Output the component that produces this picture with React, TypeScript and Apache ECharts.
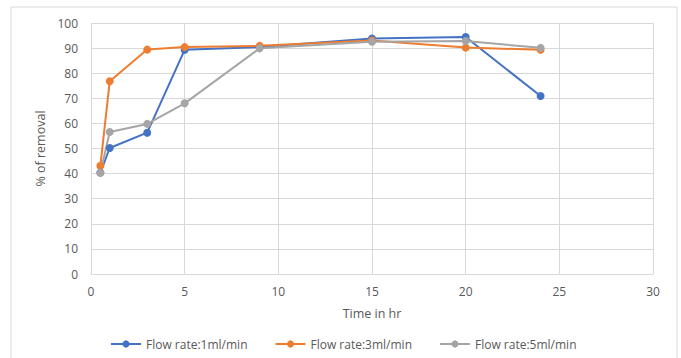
import React, { useEffect, useRef } from "react";
import * as echarts from "echarts";

const timeHr = [0.5, 1, 3, 5, 9, 15, 20, 24];
const rate1 = [40.4, 50.2, 56.3, 89.3, 90.4, 93.8, 94.4, 70.9];
const rate3 = [43.1, 76.8, 89.4, 90.4, 90.9, 93.0, 90.2, 89.3];
const rate5 = [40.3, 56.6, 59.8, 68.0, 89.9, 92.5, 92.8, 90.1];
const seriesNames = ["Flow rate:1ml/min", "Flow rate:3ml/min", "Flow rate:5ml/min"];
const seriesColors = ["#4472C4", "#ED7D31", "#A5A5A5"];

const FONT = "'Open Sans', 'DejaVu Sans', sans-serif";

export default function App() {
  const ref = useRef<HTMLDivElement>(null);

  useEffect(() => {
    if (!ref.current) return;
    const chart = echarts.init(ref.current, undefined, { renderer: "svg" });
    const all = [rate1, rate3, rate5];
    chart.setOption({
      animation: false,
      backgroundColor: "#ffffff",
      graphic: [
        {
          type: "rect",
          shape: { x: 11, y: 7, width: 666, height: 360 },
          style: { fill: "none", stroke: "#d9d9d9", lineWidth: 1 },
          silent: true,
          z: -1,
        },
      ],
      grid: { left: 91, right: 28, top: 23, bottom: 84 },
      legend: {
        top: 333,
        left: 105,
        itemWidth: 30,
        itemHeight: 9,
        itemGap: 27,
        textStyle: { color: "#595959", fontSize: 12, fontFamily: FONT },
        data: seriesNames,
      },
      xAxis: {
        type: "value",
        min: 0,
        max: 30,
        interval: 5,
        name: "Time in hr",
        nameLocation: "middle",
        nameGap: 33,
        nameTextStyle: { color: "#595959", fontSize: 12.5, fontFamily: FONT },
        axisLine: { show: true, lineStyle: { color: "#d9d9d9", width: 1 } },
        axisTick: { show: false },
        axisLabel: { color: "#595959", fontSize: 12, fontFamily: FONT, margin: 11 },
        splitLine: { show: true, lineStyle: { color: "#d9d9d9", width: 1 } },
      },
      yAxis: {
        type: "value",
        min: 0,
        max: 100,
        interval: 10,
        name: "% of removal",
        nameLocation: "middle",
        nameGap: 44,
        nameRotate: 90,
        nameTextStyle: { color: "#595959", fontSize: 12.5, fontFamily: FONT },
        axisLine: { show: false },
        axisTick: { show: false },
        axisLabel: { color: "#595959", fontSize: 12, fontFamily: FONT, margin: 13 },
        splitLine: { show: true, lineStyle: { color: "#d9d9d9", width: 1 } },
      },
      series: all.map((vals, i) => ({
        name: seriesNames[i],
        type: "line",
        data: timeHr.map((t, j) => [t, vals[j]]),
        color: seriesColors[i],
        symbol: "circle",
        symbolSize: 8,
        lineStyle: { width: 2, color: seriesColors[i] },
        itemStyle: { color: seriesColors[i] },
      })),
    });
    return () => chart.dispose();
  }, []);

  return (
    <div
      ref={ref}
      style={{ position: "fixed", left: 0, top: 0, width: 681, height: 358 }}
    />
  );
}
